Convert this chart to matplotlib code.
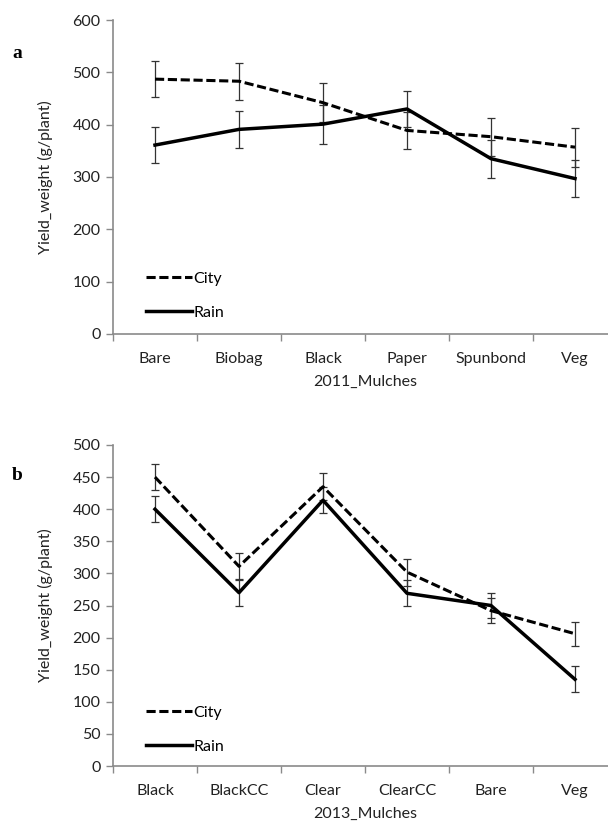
import matplotlib
matplotlib.use("Agg")
import matplotlib.pyplot as plt
from matplotlib.lines import Line2D
import numpy as np

cats_2011 = ["Bare", "Biobag", "Black", "Paper", "Spunbond", "Veg"]
city_2011 = [487, 483, 442, 389, 377, 357]
city_err_2011 = [35, 35, 37, 35, 36, 37]
rain_2011 = [361, 391, 401, 430, 335, 297]
rain_err_2011 = [35, 36, 37, 35, 36, 36]

cats_2013 = ["Black", "BlackCC", "Clear", "ClearCC", "Bare", "Veg"]
city_2013 = [450, 311, 435, 302, 242, 206]
city_err_2013 = [20, 20, 21, 21, 20, 19]
rain_2013 = [400, 270, 414, 269, 250, 135]
rain_err_2013 = [20, 20, 20, 20, 20, 20]

FONT = "Lato"
plt.rcParams["font.family"] = [FONT, "DejaVu Sans"]
SPINE = "#8a8a8a"
TXT = "#222222"
FS = 11.5
DASH = (0, (3.0, 1.2))

fig = plt.figure(figsize=(6.08, 8.24), dpi=100)


def panel(rect, cats, city, city_err, rain, rain_err, ymax, ystep, xlabel, letter, letter_y, leg_y):
    ax = fig.add_axes(rect)
    x = np.arange(len(cats)) + 0.5
    ax.errorbar(x, city, yerr=city_err, color="black", ls=DASH, lw=2.2,
                ecolor="#333333", elinewidth=0.9, capsize=3, capthick=0.9)
    ax.errorbar(x, rain, yerr=rain_err, color="black", ls="-", lw=2.5,
                ecolor="#333333", elinewidth=0.9, capsize=3, capthick=0.9)
    ax.set_xlim(0, len(cats))
    ax.set_ylim(0, ymax)
    ax.set_yticks(np.arange(0, ymax + 1, ystep))
    ax.set_xticks(np.arange(0, len(cats) + 1))
    ax.set_xticklabels([])
    ax.set_xticks(x, minor=True)
    ax.set_xticklabels(cats, minor=True)
    ax.tick_params(axis="x", which="minor", length=0, pad=13, labelsize=FS, colors=TXT)
    ax.tick_params(axis="x", which="major", length=5, color=SPINE, direction="out", width=1)
    ax.tick_params(axis="y", length=5, color=SPINE, direction="out", width=1, labelsize=FS,
                   labelcolor=TXT, pad=4)
    for s in ["top", "right"]:
        ax.spines[s].set_visible(False)
    for s in ["left", "bottom"]:
        ax.spines[s].set_color(SPINE)
        ax.spines[s].set_linewidth(1.2)
    ax.set_xlabel(xlabel, fontsize=FS, color=TXT, labelpad=6)
    ax.set_ylabel("Yield_weight (g/plant)", fontsize=FS, color=TXT, labelpad=14)
    handles = [Line2D([], [], color="black", ls=DASH, lw=2.2),
               Line2D([], [], color="black", ls="-", lw=2.5)]
    ax.legend(handles, ["City", "Rain"], loc="lower left", bbox_to_anchor=(0.065, leg_y),
              frameon=False, handlelength=2.9, handletextpad=0.1, labelspacing=1.25,
              fontsize=FS, borderaxespad=0, borderpad=0)
    fig.text(12 / 608, letter_y, letter, fontsize=14, fontweight="bold",
             family="Liberation Serif", ha="left", va="center")
    return ax


panel([113 / 608, 1 - 334 / 824, 504 / 608, 314 / 824], cats_2011, city_2011, city_err_2011,
      rain_2011, rain_err_2011, 600, 100, "2011_Mulches", "a", 1 - 53 / 824, 14 / 314)
panel([113 / 608, 1 - 766 / 824, 504 / 608, 321 / 824], cats_2013, city_2013, city_err_2013,
      rain_2013, rain_err_2013, 500, 50, "2013_Mulches", "b", 1 - 476 / 824, 12 / 321)

fig.savefig("out.png", dpi=100)
